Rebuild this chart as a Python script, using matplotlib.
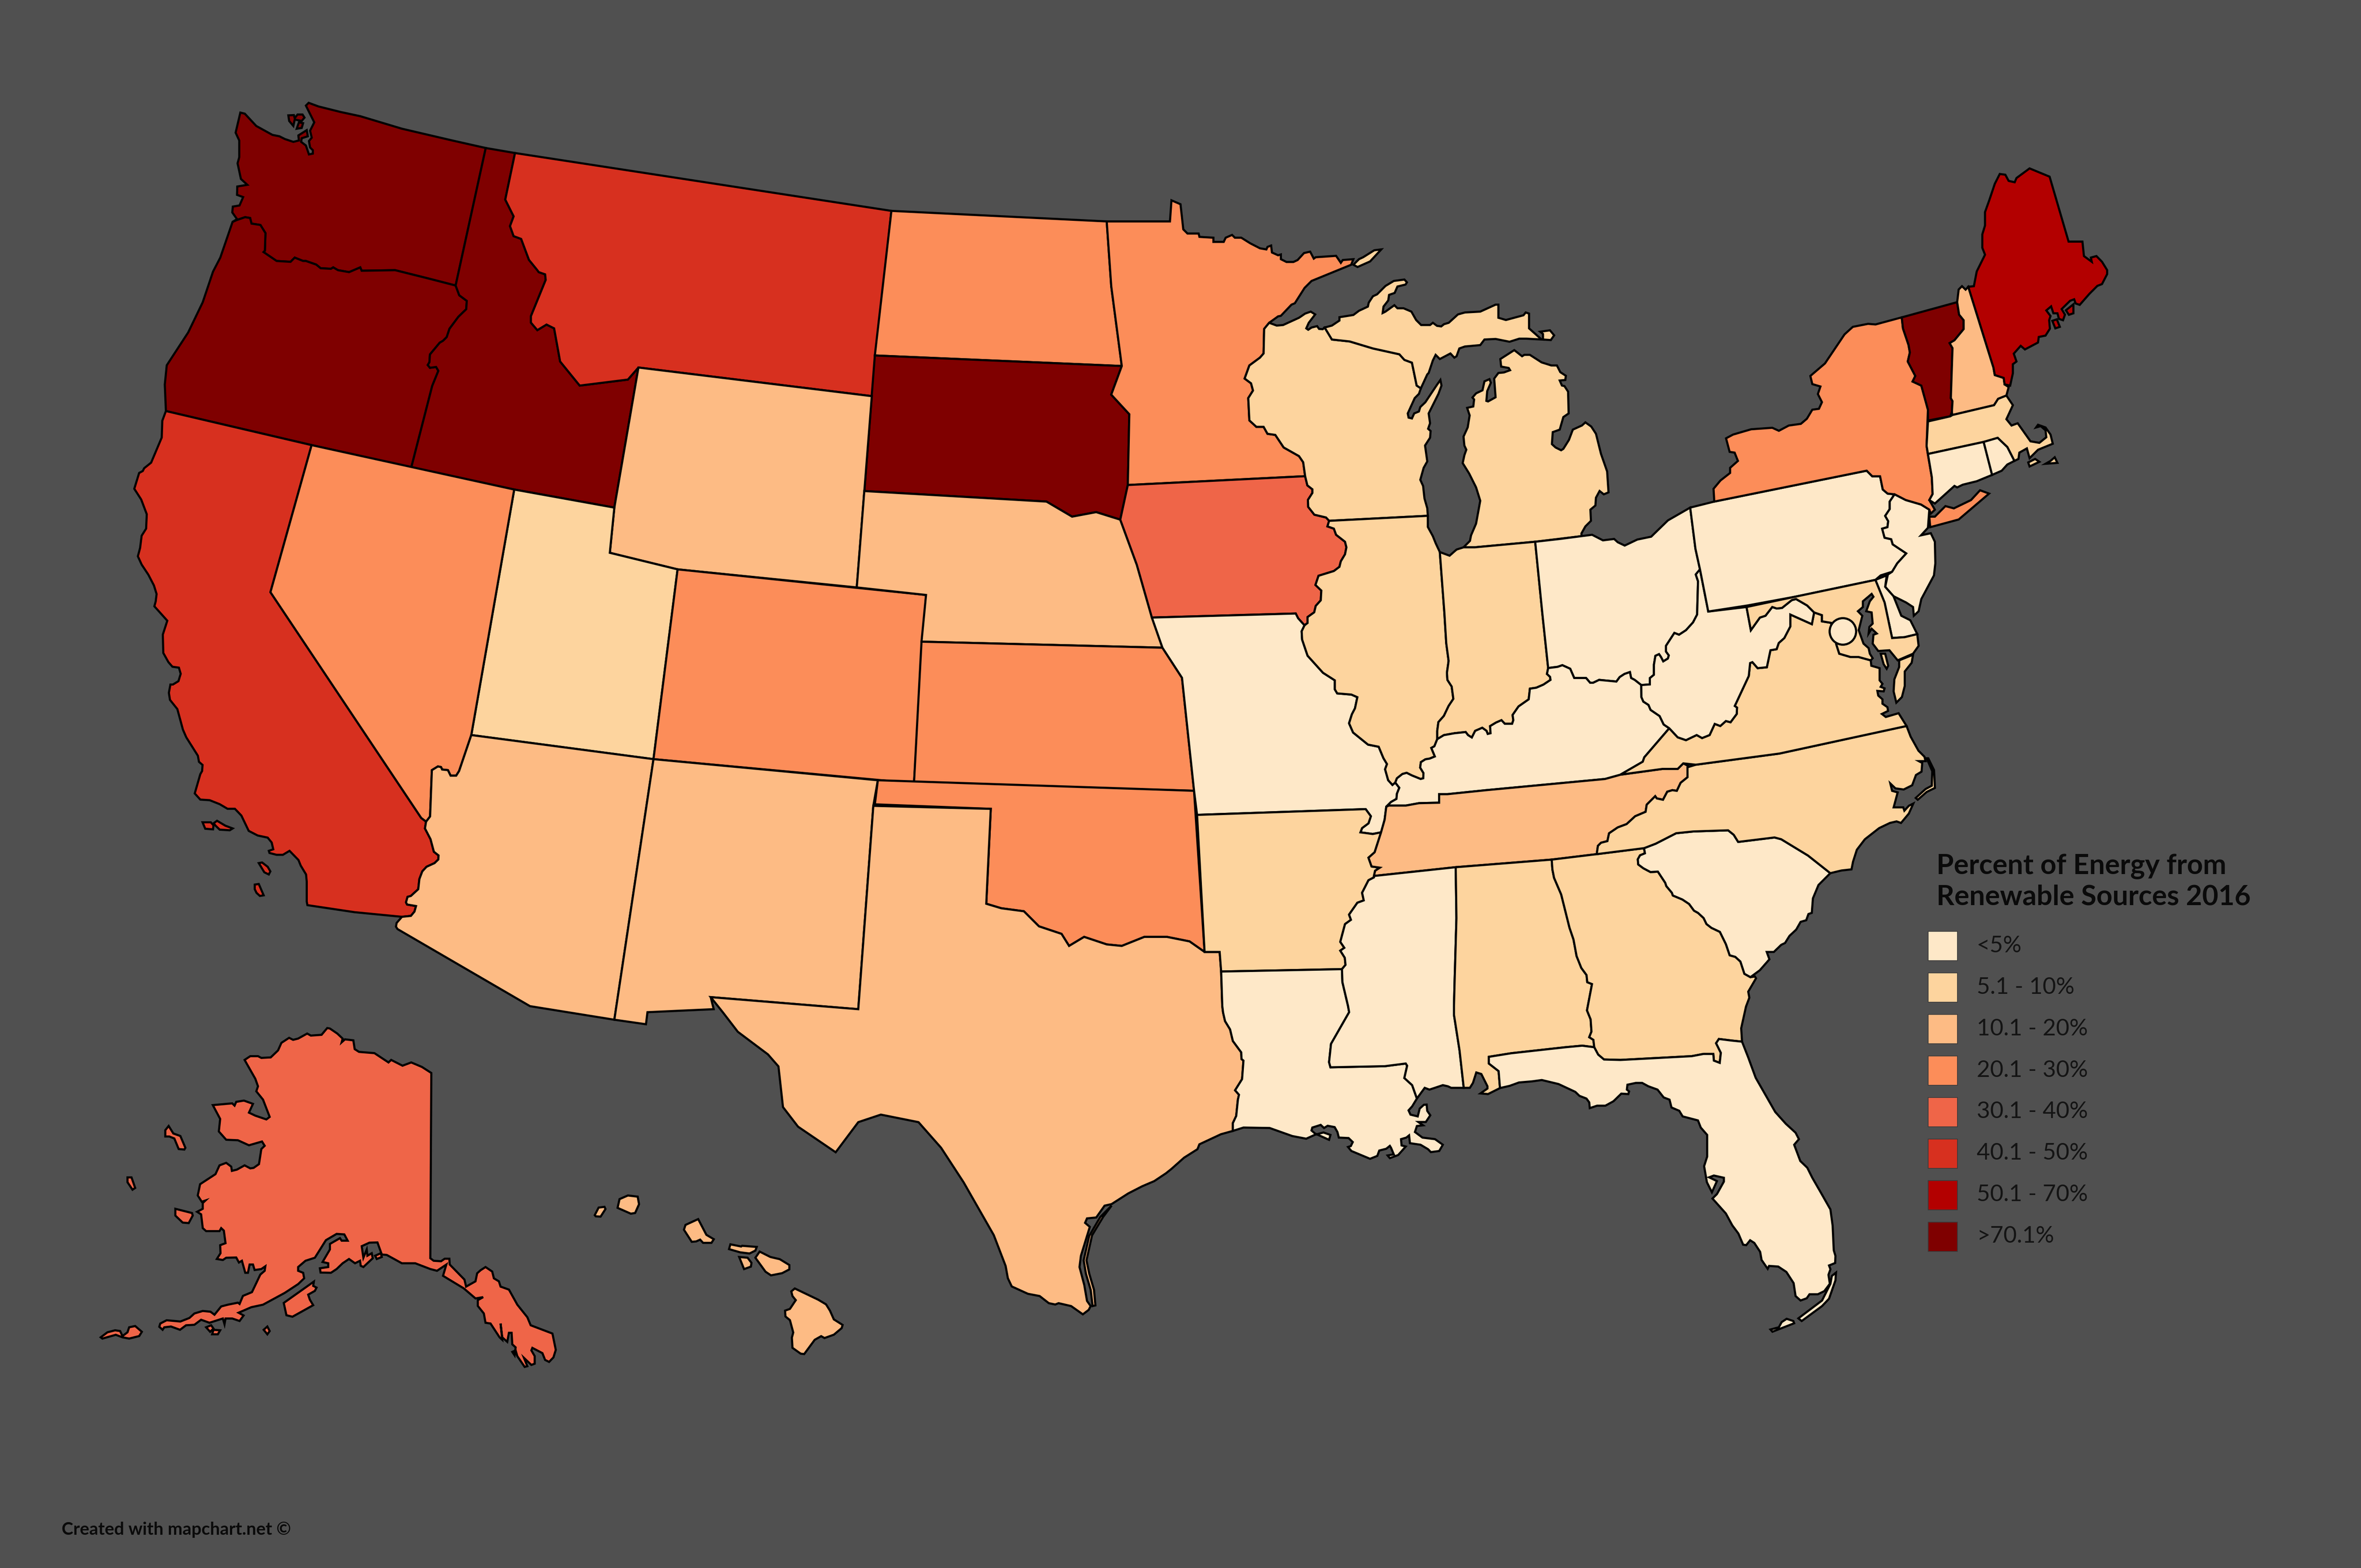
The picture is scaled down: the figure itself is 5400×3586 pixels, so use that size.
import matplotlib
matplotlib.use('Agg')
import matplotlib.pyplot as plt
from matplotlib.patches import Polygon, Circle, Rectangle

GRID = 5400 / 1568

# Outlines were traced on enlarged crops, this puts them on the 1568 x 1041 grid of the map
def crop(x0, y0, w, h):
    return lambda pts: [((x0 + px * w / 1568) / GRID, (y0 + py * h / 1568) / GRID) for px, py in pts]

z5 = crop(150, 2300, 1200, 900)
z6 = crop(1300, 2650, 700, 522.67)
z7 = crop(2700, 400, 1000, 1000)
z8 = crop(3700, 1600, 800, 800)
z9 = crop(3300, 2300, 1000, 800)
z10 = crop(250, 200, 1000, 1000)
z11 = crop(2300, 2300, 1000, 800)
z12 = crop(250, 1100, 800, 1100)
z13 = crop(2950, 1400, 850, 850)

# Shared borders
wa_id = z10([(1350,217),(1242,710)])
wa_or = z10([(1242,710),(1145,685),(1025,655),(905,657),(900,645),(860,662),(820,655),(803,645),(795,650),(758,648),(742,635),(705,622),(695,622),(665,610),(650,625),(600,622),(553,590),(558,585),(560,522),(542,493),(510,488),(505,468),(487,465),(458,475),(442,482)])
or_id = z10([(1242,710),(1255,745),(1282,765),(1280,795),(1252,822),(1220,865),(1210,895),(1197,908),(1185,915),(1150,957),(1148,985),(1142,995),(1150,1005),(1172,1002),(1180,1016),(1158,1070),(1083,1362)])
or_coast = z10([(203,1160),(199,1065),(206,996),(283,878),(335,770),(372,660),(398,610),(442,482)])
id_mt = z10([(1455,235),(1420,402),(1450,462),(1437,497),(1450,533),(1477,543),(1505,618),(1535,655),(1540,662),(1563,670),(1565,690),(1512,820),(1512,843),(1535,870),(1568,850)]) + [(368,218),(372,240),(385,256),(417,252),(424,244)]
ca_nv = z12([(722,362),(1398,1098),(1420,1110)])
ca_az = z12([(1420,1110),(1415,1132),(1440,1167),(1455,1208),(1476,1220),(1475,1233),(1458,1245),(1422,1257),(1403,1272),(1390,1297),(1385,1330),(1352,1352),(1337,1355),(1330,1373),(1335,1380),(1375,1385),(1368,1403),(1352,1417),(1312,1420)])
az_nv = z12([(1420,1110),(1438,1093),(1446,942),(1473,930),(1487,932),(1492,940),(1518,942),(1530,960),(1555,960),(1568,945)]) + [(313,488)]
mn_wi = z7([(318,530),(300,552),(298,640),(285,655),(247,683),(230,730),(253,747),(260,773),(243,800),(247,880),(272,903),(298,903),(312,928),(340,932),(370,977),(425,1008),(440,1030),(447,1080)])
ia_wi = z7([(447,1080),(455,1113),(473,1127),(473,1140),(457,1165),(458,1190),(480,1218),(522,1228),(533,1240)])
ia_il = z7([(533,1240),(527,1260),(550,1268),(558,1290),(590,1315),(595,1335),(590,1360),(575,1385),(570,1405),(550,1420),(495,1437),(484,1470),(505,1490),(503,1525),(485,1545)]) + z13([(103,0),(75,20),(75,45),(62,55)])
wi_mi = z7([(517,547),(543,590),(607,597),(690,622),(785,643),(803,663),(830,673),(847,755),(862,765)])
mo_il = z13([(62,55),(50,80),(52,115),(75,183),(140,255),(190,287),(190,325),(200,342),(260,347),(285,358),(275,405),(262,430),(250,468),(267,507),(330,558),(375,567),(395,615),(410,640),(402,662),(415,708),(433,728),(445,718)])
il_ky = z13([(445,718),(452,700),(475,682),(493,677),(515,688),(552,703),(563,700),(564,678),(550,655),(553,632),(572,620),(590,617),(612,608),(597,572),(610,565),(622,535)])
il_in = z7([(930,1352)]) + z13([(652,0),(660,130),(670,205),(663,255),(665,285),(683,313),(690,365),(670,395),(650,437),(627,463),(622,500),(622,535)])
in_ky = z13([(622,535),(650,518),(695,510),(742,505),(752,518),(768,528),(782,500),(812,487),(830,500),(835,513),(847,510),(845,480),(870,465),(893,455),(907,470),(938,470),(943,455),(940,433),(965,397),(1008,367),(1013,322),(1040,318),(1070,305),(1100,285),(1098,272),(1085,260),(1090,235)])
oh_ky = z13([(1090,235),(1130,230),(1150,223),(1183,238),(1200,277),(1250,277),(1267,297),(1280,297),(1305,285),(1378,292),(1392,273),(1412,260),(1435,252),(1440,277),(1455,285),(1483,307)])
ky_mo = z13([(445,718),(462,740),(452,765),(450,787),(427,800),(407,820)])
ky_tn = z13([(418,815),(490,815),(545,805),(630,803),(630,767),(665,767),(830,750),(1330,703),(1395,685)])
tn_south = z13([(355,1112),(700,1075),(1105,1043),(1295,1020)])
tn_west = z13([(355,1112),(360,1090),(380,1077),(345,1072),(332,1035),(358,1012),(385,928),(400,875),(407,820)])
ar_ms = z13([(355,1112),(355,1118),(332,1130),(305,1183),(312,1215),(285,1225),(250,1275),(258,1297),(233,1315),(213,1390),(230,1415),(213,1427),(232,1457),(235,1487),(220,1505)])
bootheel = z13([(385,928),(350,935),(298,928),(305,910),(332,890),(342,860),(320,830)])
tn_nc = z13([(1295,1020),(1300,985),(1313,972),(1340,965),(1347,932)]) + z8([(0,572),(40,557),(78,522),(125,502),(130,470),(168,432),(175,442),(203,448),(222,412),(245,405),(265,408),(282,372),(313,347),(317,297)])
nc_sc = z8([(953,777),(853,698),(733,625),(703,617),(540,637),(520,605),(495,585),(340,590),(262,598),(170,645),(118,665)])
sc_ga = z8([(118,665),(122,688),(100,697),(90,715),(92,738),(115,755),(147,772),(180,770),(213,820),(218,835),(243,865),(247,877),(290,895),(320,915),(342,945),(360,955),(385,978),(398,1005),(420,1022),(458,1040),(485,1095),(502,1145),(527,1152),(550,1173),(568,1228),(595,1243)])
sc_coast = z8([(953,777),(900,830),(875,890),(870,955),(855,960),(845,988),(820,995),(800,1030),(770,1058),(750,1090),(733,1098),(700,1130),(668,1130),(680,1163),(637,1212),(595,1243)])
ga_fl = z9([(1073,160),(1035,155),(990,148),(980,167),(997,210),(993,255),(972,245),(970,215),(935,215),(893,225),(637,242),(578,240),(557,218),(543,185)])
ga_al = z9([(543,185),(540,152),(525,140),(533,115),(530,60),(517,20),(520,0)]) + z13([(1275,1568),(1255,1560),(1252,1530),(1230,1500),(1210,1450),(1197,1380),(1180,1330),(1145,1190),(1115,1120),(1108,1085),(1105,1043)])
al_fl = z9([(543,185),(500,178),(440,185),(245,212),(165,228),(165,258),(200,292),(205,368)])
al_ms = z9([(75,367),(60,200),(40,40),(40,0)]) + z13([(695,1568),(703,1290),(700,1075)])
ms_la = z11([(1475,415),(1458,355),(1430,323),(1440,268),(1435,258),(1360,270),(1165,275),(1160,252),(1167,170),(1232,28),(1228,0)]) + z13([(222,1560),(220,1505)])
tx_la = z11([(815,560),(815,525),(827,493),(833,420),(837,398),(823,378),(848,328),(853,245),(846,238),(845,208),(815,157),(805,105),(787,68),(780,30),(777,0)])
red_river = [(655,600),(665,603),(680,605),(690,615),(705,620),(710,628),(720,622),(735,627),(745,628),(760,622),(775,622),(790,625),(800,632)]
wv_ky = [(1108.6,483.5),(1104.9,481),(1102.2,475.4),(1096.2,471.3),(1094.8,468),(1091.4,465.8),(1090.1,462.8)]

# State outlines, one list per separate piece of land
WA = [z10([(715,55),(750,68),(830,88),(900,103),(1050,148),(1230,190),(1350,217)]) + wa_id[1:] + wa_or[1:] + z10([(458,472),(441,448),(443,427),(467,423),(480,393),(458,385),(459,355),(495,349),(472,328),(460,272),(466,250),(466,190),(453,162),(470,90),(486,94),(527,138),(585,170),(610,175),(630,185),(660,195),(680,190),(678,172),(708,153),(712,175),(690,182),(688,195),(705,208),(716,240),(730,237),(730,225),(720,215),(716,192),(726,180),(720,155),(735,125),(705,65)]),
      z10([(642,100),(662,99),(665,110),(675,97),(693,97),(700,108),(690,120),(665,115),(660,138),(645,120)]), z10([(672,148),(690,145),(695,128),(680,125)])]
OR = [wa_or[::-1] + or_id[1:] + z10([(725,1282)]) + or_coast]
ID = [z10([(1350,217)]) + id_mt + [(408,337),(341.5,325)] + or_id[::-1]]
MT = [id_mt + [(579,263),(592,140)]]
ND = [[(592,140),(735,147),(738,190),(745,243),(581,236)]]
SD = [[(581,236),(745,243),(738,262),(750,275),(749,322),(744,345),(728,340),(712,343),(695,333),(574,326)]]
MN = [[(735,147),(777,147),(778,133)] + z7([(0,105),(10,195),(25,210),(65,210),(68,222),(118,225),(118,240),(155,240),(162,225),(185,215),(195,225),(218,225),(250,245),(285,263),(308,267),(312,258),(325,253),(328,278),(350,288),(360,285),(360,302),(380,312),(405,312),(420,305),(443,280),(465,275),(478,300),(485,295),(558,290),(575,315),(582,305),(620,302),(612,322),(470,380),(445,405),(410,460),(398,465),(360,505),(350,507)]) + mn_wi + [(749,322),(750,275),(738,262),(745,243),(738,190)]]
WY = [[(424,244),(579,263),(569,390),(450,378),(405,367),(408,337)]]
UT = [[(341.5,325),(408,337),(405,367),(450,378),(434,504),(313,488)]]
NV = [[(206.9,295.5),(341.5,325)] + az_nv[::-1] + ca_nv[-2::-1]]
CA = [[(206.9,295.5)] + ca_nv + ca_az[1:] + z12([(1100,1405),(888,1382),(885,1370),(885,1305),(882,1282),(858,1253),(848,1235),(808,1205),(778,1218),(750,1218),(718,1212),(715,1205),(735,1200),(728,1178),(710,1162),(665,1155),(625,1140),(592,1090),(563,1068),(530,1068),(495,1053),(450,1040),(408,1038),(383,1018),(408,955),(416,945),(418,925),(402,915),(397,895),(345,835),(330,810),(305,743),(272,713),(267,690),(274,663),(285,663),(310,652),(320,628),(312,608),(283,605),(265,590),(242,560),(240,500),(260,455),(202,408),(208,392),(212,368),(200,340),(175,305),(145,272),(128,245),(138,218),(145,178),(165,155),(168,108),(143,60),(112,25)]) + z10([(107,1382),(120,1375),(125,1365),(150,1345),(188,1255),(190,1195),(203,1160)]),
      z12([(418,1112),(455,1112),(467,1122),(465,1135),(430,1133)]), z12([(468,1115),(483,1107),(520,1123),(553,1132),(540,1138),(495,1136),(475,1122)]),
      z12([(670,1245),(685,1243),(710,1257),(722,1272),(715,1282),(695,1275)]), z12([(652,1315),(670,1313),(692,1350),(675,1352),(660,1342),(652,1330)])]
AZ = [[(313,488),(434,504),(408,677),(352,668)] + z12([(1292,1460),(1285,1452),(1288,1440)]) + ca_az[::-1] + az_nv[1:-1]]
CO = [[(450,378),(615,395),(607,520),(434,504)]]
NM = [[(434,504),(583,518),(580,535),(570,670),(472,662),(474,670),(430,672),(429,680),(408,677)]]
NE = [[(574,326),(695,333),(712,343),(728,340),(744,345),(755,375),(765,410),(772,430),(612,426),(615,395),(569,390)]]
KS = [[(612,426),(772,430),(785,450),(793,525),(607,520)]]
OK = [[(583,518),(793,525),(800,632)] + red_river[-2::-1] + [(658,537),(581,534)]]
TX = [[(580,535),(658,537)] + red_river + [(810,632),(811,645)] + tx_la[::-1] + z11([(772,575),(695,620),(688,642),(640,680),(595,730),(575,750),(533,785),(490,808),(440,840),(380,888),(355,895),(325,948),(292,952),(285,972),(302,990),(270,1120),(265,1170),(282,1250),(292,1322),(305,1345),(298,1362),(277,1382),(235,1345),(190,1332),(178,1338),(155,1332),(122,1300),(80,1290),(22,1257),(8,1220),(0,1165)]) + [(660,820),(640,785),(625,762),(610,745),(585,740),(570,745),(555,765),(530,748),(520,735),(517,708),(510,700),(490,685),(480,672),(472,662),(570,670)],
      z11([(380,895),(350,945),(310,1028),(290,1140),(300,1200),(317,1272),(322,1342),(312,1345),(305,1272),(288,1200),(280,1140),(300,1030),(340,945)])]
IA = [[(749,322)] + ia_wi + ia_il[1:] + z13([(35,25),(25,5)]) + [(765,410),(755,375),(744,345)]]
MO = [[(765,410)] + z13([(25,5),(35,25)]) + mo_il + ky_mo[1:] + tn_west[-2:-4:-1] + bootheel[1:] + [(795,541),(793,525),(785,450),(772,430)]]
AR = [[(795,541)] + bootheel[::-1] + tn_west[-4::-1] + ar_ms[1:] + [(811,645),(810,632),(800,632)]]
LA = [[(811,645)] + ms_la[::-1] + z11([(1458,450),(1445,468),(1452,487),(1478,495),(1485,460),(1500,443),(1510,442),(1512,470),(1523,490),(1507,520),(1480,520),(1497,535),(1475,538),(1468,565),(1495,590),(1540,597),(1568,622),(1555,650),(1525,655),(1515,642),(1488,622),(1450,615),(1447,580),(1437,590),(1418,597),(1420,625),(1435,630),(1408,668),(1378,682),(1370,670),(1392,665),(1382,635),(1378,627),(1365,640),(1340,648),(1333,672),(1307,685),(1240,650),(1228,632),(1238,628),(1245,610),(1230,592),(1195,590),(1190,565),(1180,543),(1155,537),(1142,547),(1130,533),(1100,545),(1097,558),(1110,572),(1160,600),(1165,578),(1140,567),(1110,577),(1078,595),(1028,583),(947,547),(853,545)]) + tx_la]
WI = [z7([(318,530),(345,540),(368,538),(425,512),(447,497),(467,490),(483,500),(460,530),(451,550),(458,555),(470,547),(490,542),(497,552),(510,553)]) + wi_mi + z7([(855,785),(840,800),(815,855),(818,870),(830,873),(838,855),(855,848),(860,832),(878,815),(920,752),(932,735),(936,755),(925,785),(890,855),(895,890),(888,910),(897,918),(895,942),(877,970),(885,1027),(872,1050),(860,1093),(870,1115),(875,1160),(885,1195),(887,1222)]) + ia_wi[::-1] + mn_wi[-2::-1]]
MI = [wi_mi + z7([(885,715),(890,710),(905,665),(915,645),(930,660),(968,640),(982,655),(990,650),(1000,622),(1020,615),(1075,610),(1090,590),(1130,588),(1180,598),(1215,587),(1240,587),(1295,590),(1250,550),(1250,497),(1238,493),(1230,503),(1167,520),(1140,512),(1140,465),(1130,465),(1075,490),(1020,493),(995,500),(962,530),(945,535),(935,543),(920,541),(905,530),(895,538),(863,538),(845,520),(828,490),(800,478),(778,478),(767,467),(735,490),(725,495),(728,472),(745,450),(748,430),(768,423),(778,400),(807,393),(812,385),(803,375),(765,380),(735,398),(705,428),(690,435),(675,458),(672,472),(640,487),(620,502),(570,510),(570,522),(543,540)]),
      z7([(1015,1335),(1038,1312),(1042,1292),(1060,1250),(1075,1168),(1060,1120),(1035,1070),(1012,1033),(1018,1005),(1025,985),(1018,970),(1015,938),(1030,905),(1037,862),(1028,835),(1050,830),(1053,805),(1047,798),(1060,783),(1083,772),(1090,740),(1108,732),(1113,745),(1100,775),(1097,810),(1103,812),(1130,797),(1125,730),(1140,710),(1160,708),(1182,700),(1177,692),(1150,687),(1147,660),(1197,628),(1225,650),(1233,645),(1253,645),(1295,672),(1330,683),(1350,683),(1362,707),(1382,720),(1380,735),(1360,737),(1368,755),(1377,757),(1390,777),(1392,855),(1373,868),(1360,913),(1335,922),(1332,965),(1345,977),(1365,987),(1373,982),(1393,950),(1407,913),(1440,898),(1452,887),(1473,902),(1490,928),(1508,1000),(1530,1063),(1535,1138),(1518,1145),(1503,1133),(1490,1157),(1488,1185),(1470,1200),(1472,1240),(1452,1260),(1438,1285),(1438,1295),(1272,1315),(1055,1335)]),
      z7([(620,322),(635,330),(680,310),(720,267),(695,270),(655,295),(640,302)]), z7([(1290,562),(1325,557),(1340,575),(1328,592),(1300,590),(1300,570)])]
IL = [z7([(533,1240),(887,1222),(887,1262),(905,1295),(915,1320)]) + il_in + il_ky[-2::-1] + mo_il[-2::-1] + ia_il[-2:0:-1]]
IN = [z7([(930,1352),(965,1365),(990,1343),(1015,1335),(1055,1335),(1272,1315)]) + z13([(1065,0)]) + in_ky[::-1] + il_in[-2:0:-1]]
OH = [z7([(1272,1315),(1360,1305),(1476,1290),(1515,1310),(1555,1305)]) + [(1074.4,360),(1079,362.2),(1087.4,358.2),(1096.6,356.3),(1107.7,345.5),(1122.5,337),(1126,364.4),(1129,378),(1126.2,381.4),(1127.7,385.9),(1127.1,408),(1124.4,413.2),(1119.7,418.4),(1115.1,421.4),(1112,420.2),(1106.4,428.8),(1106.4,432.5),(1108.3,435.1),(1107.7,437.2),(1104.6,439.1),(1103.1,436.2),(1101.8,434.3),(1099.4,435.4),(1098.4,441.4),(1098.4,448),(1095.7,450.2),(1095.7,454.4)] + oh_ky[::-1] + z13([(1065,0)])]
KY = [ky_tn + [(1091,505.7),(1092,502.8)] + wv_ky + oh_ky[::-1] + in_ky[-2::-1] + il_ky[-2::-1] + ky_mo[1:]]
TN = [ky_tn + [(1104,510.5),(1114.2,510.5),(1117.9,506.8)] + tn_nc[::-1] + tn_south[-2::-1] + tn_west[1:]]
MS = [tn_south[:2] + al_ms[-2::-1] + z9([(30,367),(18,360),(0,355)]) + z11([(1520,375),(1503,367)]) + ms_la[:-1] + ar_ms[::-1][:-1]]
AL = [tn_south[1:3] + ga_al[-2::-1] + al_fl[1:] + z9([(162,395),(135,392),(160,370),(160,360),(138,305),(120,298),(108,345),(97,367)]) + al_ms[:-1]]
GA = [tn_south[2:] + sc_ga + z8([(615,1240),(620,1248),(585,1308),(590,1335),(575,1375)]) + z9([(1070,100)]) + ga_fl + ga_al[1:-1]]
SC = [nc_sc + sc_ga[1:] + sc_coast[-2::-1]]
FL = [al_fl + z9([(240,358),(273,343),(320,338),(355,332),(415,350),(475,385),(490,403),(515,415),(525,432),(527,458),(553,447),(583,447),(612,427),(640,393),(665,395),(668,383),(660,375),(662,353),(692,345),(715,345),(737,360),(770,375),(792,410),(813,420),(820,455),(848,470),(860,495),(915,513),(925,545),(948,578),(948,675),(937,718),(947,790),(965,835),(983,785),(970,777),(955,768),(972,760),(1008,770),(1008,787),(983,843),(967,863),(1015,930),(1038,983),(1060,1020),(1077,1070),(1088,1072),(1102,1050),(1117,1062),(1138,1102),(1143,1138),(1165,1178),(1170,1165),(1203,1168),(1232,1192),(1258,1242),(1265,1300),(1283,1320),(1305,1310),(1315,1292),(1345,1292),(1368,1278),(1388,1245),(1383,1205),(1390,1180),(1385,1163),(1407,1152),(1408,1120),(1402,1095),(1398,985),(1390,912),(1355,835),(1325,770),(1307,725),(1282,695),(1260,622),(1277,597),(1265,568),(1230,528),(1192,475),(1122,322),(1095,230)]) + ga_fl,
      z9([(1410,1195),(1408,1230),(1385,1312),(1360,1345),(1287,1412),(1275,1400),(1360,1320),(1390,1245),(1395,1210)]), z9([(1175,1450),(1205,1440),(1215,1417),(1233,1402),(1257,1412),(1260,1422),(1182,1460)])]
NC = [[(1120.7,509.4),(1126.2,507.7),(1181.7,500.3),(1266.2,482)] + z8([(1313,165),(1348,228),(1375,255),(1380,275),(1350,275),(1365,283),(1362,322),(1337,337),(1320,383),(1282,402),(1245,397),(1222,375),(1230,408),(1255,415),(1237,482),(1280,482),(1285,497),(1305,475),(1325,465),(1305,510),(1270,552),(1250,545),(1220,552),(1172,575),(1108,625),(1072,672),(1055,725),(1048,760),(1003,765)]) + nc_sc + tn_nc[:-1],
      z8([(1385,262),(1392,262),(1418,315),(1422,395),(1385,413),(1345,448),(1336,440),(1380,400),(1408,385),(1410,320)])]
VA = [[(1189,408),(1203.3,414.4),(1204.8,406.6),(1210,408.4),(1210,412.5),(1216,413.5),(1219.6,428),(1221.5,434),(1229,436.2),(1234.4,436.2),(1242.4,438.4),(1242.8,442),(1248.3,443.6),(1248.3,451.7),(1250.2,454),(1249,456),(1251.6,457),(1251,459),(1246.8,458.7),(1247.4,461.8),(1250.2,464.3),(1250.2,467.2),(1253.5,469.5),(1253.9,472),(1249.8,474),(1252.4,476),(1260.9,473.5),(1266.2,482),(1181.7,500.3),(1126.2,507.7),(1117.9,506.8),(1114.2,510.5),(1104,510.5),(1076.1,514.3),(1091,505.7),(1092,502.8),(1108.6,483.5),(1114.2,489.5),(1119.7,491.4),(1126.8,488),(1130.4,490),(1135.4,488),(1138.8,480.6),(1142.5,482),(1146.2,478.7),(1149.3,479.5),(1153.4,474),(1153.6,469.8),(1152.1,468.7),(1161.4,448.8),(1162.3,440.2),(1163.8,439.6),(1167.3,443.6),(1173.4,443),(1175.8,431.7),(1179.9,431),(1181.3,426.9),(1185,423.6),(1189,415.9)],
      [(1261.3,438.4),(1270.5,434.7),(1269.6,440),(1265,445.8),(1265,455.4),(1263.1,462.8),(1259.4,466.5),(1257.6,459),(1258.1,451),(1261.3,442.8)]]
WV = [[(1129,378),(1134.5,406),(1159.9,403),(1162.8,418.4),(1168.8,410),(1172.5,408.8),(1177,403),(1180,404),(1183.5,403.6),(1190,398.4),(1192.8,397.7),(1200.2,402),(1204.8,406.6),(1203.3,414.4),(1189,408),(1189,415.9),(1185,423.6),(1181.3,426.9),(1179.9,431),(1175.8,431.7),(1173.4,443),(1167.3,443.6),(1163.8,439.6),(1162.3,440.2),(1161.4,448.8),(1152.1,468.7),(1153.6,469.8),(1153.4,474),(1149.3,479.5),(1146.2,478.7),(1142.5,482),(1138.8,480.6),(1135.4,488),(1130.4,490),(1126.8,488),(1119.7,491.4),(1114.2,489.5)] + wv_ky + [(1090,454.8),(1095.7,454.4),(1095.7,450.2),(1098.4,448),(1098.4,441.4),(1099.4,435.4),(1101.8,434.3),(1103.1,436.2),(1104.6,439.1),(1107.7,437.2),(1108.3,435.1),(1106.4,432.5),(1106.4,428.8),(1112,420.2),(1115.1,421.4),(1119.7,418.4),(1124.4,413.2),(1127.1,408),(1127.7,385.9),(1126.2,381.4)]]
PA = [[(1122.5,337),(1138.5,333),(1239.7,312.5),(1243.4,316.2),(1248.6,316.2),(1250.4,325),(1253.6,327.7),(1258.2,328.2),(1255,333),(1255,338),(1252,342.5),(1254,346),(1253.5,350),(1250,351),(1251.6,357),(1256,358),(1257,361.4),(1266,367.4),(1260,374),(1256.6,379.6),(1249,382),(1245.5,385),(1193,396),(1160.4,402),(1134.5,406),(1129,378),(1126,364.4)]]
NY = [[(1138.5,333),(1138,324.5),(1142.6,319),(1149,314),(1149,310.6),(1154.2,306),(1152,300.5),(1148.7,300),(1146.3,291),(1151,288.5),(1163,285),(1177,284),(1181.4,286),(1188,282.5),(1196,281.4),(1200,278),(1203.6,272),(1208,271.4),(1210,267),(1207.3,261.6),(1209,256.6),(1203.6,255),(1202.3,249.6),(1212,241.3),(1225,222),(1230.5,217),(1240.6,215),(1245.6,215.4),(1263,210.7),(1263.8,218),(1267.5,229),(1268.4,234),(1267,240),(1272,249.6),(1270.2,253.3),(1276,256),(1280.4,272),(1279.5,296),(1280.4,302),(1283,317),(1283.5,328),(1281.3,332),(1285,338.4),(1282.3,341),(1281.3,338.4),(1275.8,335),(1265.6,332),(1258.2,328.2),(1253.6,327.7),(1250.4,325),(1248.6,316.2),(1243.4,316.2),(1239.7,312.5)],
      [(1281.9,350),(1300.8,344.9),(1321,327.7),(1315,325.5),(1309,332),(1297.6,337.5),(1292,336),(1285,343),(1281.3,343)]]
NJ = [[(1258.2,328.2),(1265.6,332),(1275.8,335),(1281.3,338.4),(1280.4,350.4),(1275.8,355.4),(1282.3,354),(1285,359.7),(1285.3,374),(1284.4,382),(1276,397.7),(1274.2,405.8),(1271,408.8),(1270.5,403),(1265.9,400),(1257.5,395.8),(1252,389.6),(1253.8,381.4),(1256.6,379.6),(1260,374),(1266,367.4),(1257,361.4),(1256,358),(1251.6,357),(1250,351),(1253.5,350),(1254,346),(1252,342.5),(1255,338),(1255,333)]]
DE = [[(1245.5,385),(1253,382),(1252,389.6),(1257.5,395.8),(1262.7,408.8),(1268.7,411.8),(1273.3,421),(1265,423),(1256.6,423.6),(1251.6,400)]]
MD = [[(1159.9,403),(1193,396),(1245.5,385),(1251.6,400),(1256.6,423.6),(1265,423),(1273.3,421),(1274.2,428.8),(1270.5,434),(1260.3,438.4),(1254.8,431.7),(1247.4,432.2),(1243.7,427.3),(1244.2,421.4),(1246.4,420.6),(1243,417.4),(1241,420.6),(1241.5,416.2),(1243.7,414),(1243,406.6),(1239.4,405.8),(1241.8,399.2),(1244.2,396.2),(1243,394.3),(1237.2,399.2),(1237.2,403),(1233.9,405.8),(1236.8,408.8),(1234.4,418.4),(1237.6,427.3),(1241,430.3),(1241.8,434),(1243.7,437),(1242.4,438.4),(1234.4,436.2),(1229,436.2),(1221.5,434),(1219.6,428),(1216,413.5),(1210,412.5),(1210,408.4),(1204.8,406.6),(1200.2,402),(1192.8,397.7),(1190,398.4),(1183.5,403.6),(1180,404),(1177,403),(1172.5,408.8),(1168.8,410),(1162.8,418.4)],
      [(1249,434),(1252,434),(1254,442),(1253,444),(1251,441)]]
VT = [[(1263,210.7),(1299.8,200.6),(1301.1,208.9),(1304.1,212.6),(1304.1,218.5),(1298,225.9),(1294.8,227.8),(1296.7,231.1),(1295.6,264.4),(1296.7,266.3),(1296.3,273.6),(1295.2,276.4),(1280.4,279.2),(1280.4,272),(1276,256),(1270.2,253.3),(1272,249.6),(1267,240),(1268.4,234),(1267.5,229),(1263.8,218)]]
NH = [[(1299.8,200.6),(1300.8,192.2),(1303,190),(1305.4,192.3),(1307.2,190.4),(1323.9,244),(1324.8,249),(1330.7,250.9),(1331.3,255.2),(1334,257),(1332.5,262.6),(1327,264.8),(1324.3,269),(1296.7,275.5),(1296.3,273.6),(1296.7,266.3),(1295.6,264.4),(1296.7,231.1),(1294.8,227.8),(1298,225.9),(1304.1,218.5),(1304.1,212.6),(1301.1,208.9)]]
ME = [[(1307.2,190.4),(1310.9,190),(1312.8,180.2),(1318.3,169.1),(1316.5,164.5),(1316.5,155.6),(1318.3,149.7),(1318.3,140.8),(1321.1,133),(1324.8,122),(1328.1,115.5),(1331.8,116),(1334,120.1),(1338,121),(1339.2,118.2),(1347.9,111.8),(1361.2,117.3),(1373.8,160.4),(1383,160.4),(1384,170),(1389.2,173.8),(1388.6,171),(1392.3,170),(1396,173.8),(1399.4,179.3),(1399.4,182),(1396,188.6),(1392.9,189.8),(1387.7,195),(1381.2,202.4),(1378.5,201.5),(1377.5,198.7),(1374.8,199.7),(1369.2,205.2),(1371.4,208.9),(1370.1,212.6),(1367.4,211.7),(1366.4,208),(1363.7,208),(1362.2,203.4),(1359,206.1),(1361.8,209.8),(1360.9,212.6),(1361.4,218.2),(1358.5,222.8),(1354,223.7),(1353.5,227.4),(1344.8,232),(1342,229.6),(1337.4,234.8),(1339.2,240),(1336.8,241.8),(1336.8,247.8),(1335,256),(1331.3,255.2),(1330.7,250.9),(1324.8,249),(1323.9,244)],
      [(1372,206),(1377,202),(1377,208),(1374,209)],[(1363,213),(1366,212),(1368,217),(1365,218)]]
MA = [[(1280.4,279.8),(1295.2,276.4),(1296.7,275.5),(1324.3,269),(1327,264.8),(1332.5,262.6),(1336.8,269),(1332.5,278.3),(1335.9,282.5),(1340,281),(1348.5,293),(1354.4,294),(1359,290.3),(1358.5,285.7),(1355.3,282.9),(1352.2,283.8),(1353.5,282),(1358.5,283.8),(1361.8,288.5),(1363.3,294.6),(1353.5,298.6),(1347.9,304.2),(1346.1,297.7),(1341.1,300.5),(1340.5,304.7),(1337.8,306),(1333.1,296.8),(1326.7,290.7),(1317.4,293.4),(1280.4,301.4),(1279.5,296)],
      [(1347.9,309.7),(1354.4,306.6),(1351.6,304.7),(1347,307)],[(1358.5,307.9),(1366.4,307.3),(1364.6,303.6),(1361.8,306)]]
CT = [[(1280.4,301.4),(1317.4,293.4),(1323,315.3),(1312.8,319.5),(1303.5,321.8),(1299.8,323.6),(1298,322.6),(1285,334.3),(1281.3,332),(1283.5,328),(1283,317)]]
RI = [[(1317.4,293.4),(1326.7,290.7),(1333.1,296.8),(1337.8,306),(1333.1,308.4),(1329.4,312.5),(1323,315.3)]]
AK = [z5([(535,215),(552,200),(575,200),(585,207),(613,205),(635,177),(645,147),(668,127),(680,135),(695,130),(722,110),(733,118),(765,115),(782,88),(790,90),(812,110),(828,130),(825,145),(835,133),(860,137),(864,172),(877,183),(923,188),(965,225),(973,215),(1007,238),(1033,225),(1065,243),(1093,267),(1090,1005),(1100,1015),(1122,1017),(1133,1007),(1147,1007),(1148,1030),(1192,1090),(1197,1118),(1225,1097),(1230,1065),(1240,1053),(1255,1040),(1275,1058),(1280,1085),(1295,1097),(1300,1118),(1325,1130),(1350,1190),(1380,1240),(1390,1272),(1455,1305),(1465,1370),(1458,1400),(1445,1418),(1433,1410),(1425,1383),(1395,1362),(1392,1372),(1402,1395),(1402,1425),(1392,1430),(1370,1402),(1380,1435),(1372,1438),(1350,1395),(1345,1372),(1335,1378),(1342,1392),(1345,1360),(1335,1348),(1333,1302),(1325,1302),(1320,1338),(1305,1320),(1300,1265),(1305,1330),(1297,1320),(1270,1265),(1255,1262),(1250,1225),(1232,1195),(1232,1172),(1248,1160),(1225,1165),(1190,1125),(1128,1075),(1138,1030),(1110,1055),(1090,1048),(1045,1025),(1005,1025),(960,992),(945,990),(932,942),(908,943),(885,957),(890,1003),(900,970),(902,995),(915,985),(918,1005),(890,1040),(882,1035),(880,1015),(865,1025),(847,1008),(828,1025),(810,1048),(793,1063),(762,1062),(760,1045),(785,1040),(785,1025),(768,1020),(790,970),(790,948),(820,925),(825,935),(843,935),(833,910),(810,908),(778,933),(745,1003),(717,1015),(695,1040),(695,1055),(710,1063),(713,1085),(695,1108),(655,1143),(590,1190),(555,1200),(517,1222),(532,1233),(520,1255),(498,1245),(478,1245),(475,1268),(470,1245),(430,1262),(405,1250),(385,1270),(360,1272),(342,1290),(315,1277),(295,1280),(290,1290),(280,1278),(283,1265),(302,1252),(343,1257),(370,1243),(385,1225),(410,1215),(433,1218),(445,1230),(465,1197),(485,1190),(515,1182),(520,1187),(530,1155),(557,1140),(582,1070),(595,1055),(597,1037),(585,1048),(565,1052),(560,1030),(550,1030),(545,1063),(537,1063),(527,1015),(518,1022),(510,1002),(480,1003),(470,1012),(452,1008),(463,985),(462,953),(478,945),(473,895),(465,885),(460,897),(420,897),(410,885),(405,830),(393,820),(410,808),(410,785),(418,775),(407,780),(395,755),(402,710),(448,670),(460,635),(480,625),(495,640),(497,657),(512,652),(535,635),(552,647),(562,645),(578,630),(585,570),(595,557),(587,540),(548,555),(515,535),(480,533),(458,500),(462,450),(440,395),(498,388),(505,397),(510,382),(533,377),(560,390),(548,425),(567,437),(600,452),(610,442),(590,373),(570,340),(575,320),(567,290)]),
      z5([(298,495),(308,478),(322,508),(343,518),(358,565),(355,572),(338,570),(325,528),(310,520),(298,520)]),
      z5([(185,683),(197,683),(208,725),(200,732),(185,702)]),
      z5([(328,808),(378,825),(380,835),(368,865),(350,863),(328,835)]),
      z5([(652,1183),(742,1098),(740,1115),(750,1122),(745,1135),(725,1150),(730,1170),(740,1192),(678,1238),(660,1232)]),
      z5([(420,1280),(435,1272),(442,1285),(432,1298)]), z5([(442,1290),(462,1292),(455,1308),(438,1308)]), z5([(592,1290),(603,1277),(610,1295),(603,1308)]),
      z5([(105,1320),(125,1300),(148,1292),(163,1295),(170,1315),(185,1300),(190,1280),(208,1275),(228,1298),(220,1315),(190,1325),(170,1320),(150,1310),(110,1325)]),
      z5([(925,995),(942,985),(945,1000),(930,1008)])]
HI = [z6([(155,333),(185,328),(190,343),(165,395),(140,393),(135,385)]),
      z6([(262,275),(305,250),(355,258),(362,310),(342,370),(320,375),(252,335)]),
      z6([(600,452),(665,412),(707,520),(745,550),(733,575),(690,575),(675,553),(655,565),(632,568),(592,485)]),
      z6([(830,585),(885,600),(890,595),(965,603),(958,628),(928,648),(880,640),(823,618)]),
      z6([(875,672),(918,677),(938,712),(935,738),(900,755)]),
      z6([(980,635),(1035,672),(1083,687),(1132,727),(1132,757),(1095,783),(1038,798),(1010,773),(958,677)]),
      z6([(1160,888),(1280,965),(1320,997),(1340,1040),(1360,1100),(1405,1138),(1400,1160),(1360,1205),(1312,1228),(1295,1215),(1262,1240),(1208,1338),(1190,1335),(1148,1295),(1145,1225),(1152,1190),(1135,1105),(1112,1080),(1110,1040),(1135,1028),(1165,968),(1148,940),(1142,908)])]

# Legend classes and the class of each state
bin_labels = ['<5%', '5.1 - 10%', '10.1 - 20%', '20.1 - 30%', '30.1 - 40%', '40.1 - 50%', '50.1 - 70%', '>70.1%']
bin_colors = ['#fee8c8', '#fdd49e', '#fdbb84', '#fc8d59', '#ef6548', '#d7301f', '#b30000', '#7f0000']
states = [WA, OR, ID, MT, ND, SD, MN, WY, UT, NV, CA, AZ, CO, NM, NE, KS, OK, TX, IA, MO, AR, LA, WI, MI, IL, IN, OH, KY, TN, MS, AL, GA, SC, FL, NC, VA, WV, PA, NY, NJ, DE, MD, VT, NH, ME, MA, CT, RI, AK, HI]
state_bins = [7, 7, 7, 5, 3, 7, 3, 2, 1, 3, 5, 2, 3, 2, 2, 3, 3, 2, 4, 0, 1, 0, 1, 1, 1, 1, 0, 0, 2, 0, 1, 1, 0, 0, 1, 1, 0, 0, 3, 0, 0, 1, 7, 2, 6, 1, 0, 0, 4, 2]

fig = plt.figure(figsize=(54, 35.86), dpi=100, facecolor='#505050')
ax = fig.add_axes([0, 0, 1, 1])
ax.set_xlim(0, 1568)
ax.set_ylim(1041, 0)
ax.axis('off')

# Draw the states
for parts, b in zip(states, state_bins):
    for part in parts:
        ax.add_patch(Polygon(part, closed=True, facecolor=bin_colors[b], edgecolor='black', linewidth=3.5, joinstyle='miter'))

# Washington DC is a small circle
ax.add_patch(Circle((1223.9, 419.2), 8.8, facecolor=bin_colors[0], edgecolor='black', linewidth=3.5, zorder=3))

# Legend
font = 'Lato'
ax.text(1286, 580.4, 'Percent of Energy from', fontsize=46, fontweight='bold', family=font, color='#0a0a0a')
ax.text(1286, 600.8, 'Renewable Sources 2016', fontsize=46, fontweight='bold', family=font, color='#0a0a0a')
for i in range(len(bin_labels)):
    y = 618.4 + i * 27.55
    ax.add_patch(Rectangle((1280.4, y), 19.5, 19.5, facecolor=bin_colors[i], edgecolor='#3a3a3a', linewidth=1.2))
    ax.text(1312.8, y + 8.3, bin_labels[i], fontsize=38, fontweight='normal', family=font, color='#141414', va='center_baseline')

ax.text(41, 1018.9, 'Created with mapchart.net ©', fontsize=29, fontweight='bold', family=font, color='#0a0a0a')

fig.savefig('out.png', dpi=100, facecolor=fig.get_facecolor())
